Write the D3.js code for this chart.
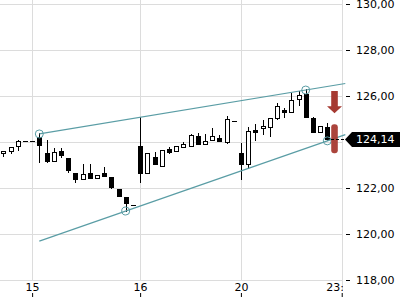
<!DOCTYPE html>
<html>
<head>
<meta charset="utf-8">
<script src="https://cdn.jsdelivr.net/npm/d3@7"></script>
<style>
  html, body { margin: 0; padding: 0; background: #fff; }
  svg { display: block; }
</style>
</head>
<body>
<svg id="chart"></svg>
<script>
// SIZES
var width = 400;
var height = 300;
var plotRight = 342;   // right edge of the candle area
var gridBottom = 281;

// COLORS
var gridColor = "#dcdcdc";
var trendColor = "#5a9da5";
var signalColor = "#a63a32";

// DATA - candles, index 0 is the oldest
var opens  = [123.52,123.62,123.83,124.06,124.06,124.20,123.51,123.17,123.61,123.29,
              122.64,122.38,122.64,122.43,122.64,122.49,121.94,121.60,121.25,123.83,
              122.64,123.33,122.97,123.70,123.62,123.77,123.84,124.27,123.93,124.07,
              124.17,124.01,124.90,123.53,123.03,124.52,124.59,124.64,125.06,125.40,
              125.29,125.86,126.09,125.03,124.42,124.67];
var highs  = [123.61,123.80,124.09,124.06,124.06,124.38,124.09,123.74,123.73,123.29,
              122.65,123.04,123.04,122.58,122.90,122.49,121.94,121.60,121.25,125.10,
              123.53,123.55,123.65,123.80,123.81,123.99,124.36,124.38,124.35,124.60,
              124.30,125.13,124.90,123.97,124.67,124.77,124.94,125.03,125.68,125.49,
              126.15,126.22,126.30,125.10,124.70,124.81];
var lows   = [123.39,123.53,123.65,124.06,124.06,123.14,123.14,123.17,123.33,122.71,
              122.27,122.38,122.42,122.43,122.53,121.99,121.65,121.00,121.25,122.27,
              122.64,123.03,122.97,123.51,123.62,123.77,123.84,123.90,123.93,124.07,
              124.06,123.97,124.90,122.40,122.87,124.07,124.35,124.28,125.00,125.07,
              125.29,125.60,125.09,124.45,124.42,124.09];
var closes = [123.61,123.80,124.04,124.06,124.06,123.85,123.19,123.55,123.43,122.78,
              122.38,122.62,122.42,122.58,122.53,122.03,121.67,121.33,121.25,122.67,
              123.53,123.03,123.65,123.55,123.81,123.93,124.29,123.90,124.03,124.26,
              124.06,124.99,124.90,123.03,124.47,124.43,124.68,125.03,125.56,125.30,
              125.81,126.03,125.09,124.45,124.70,124.14];

// AXES
var xTickIdx = [4, 19, 33, 47];
var xTickLabels = ["15", "16", "20", "23:00"];
var yTicks = [118, 120, 122, 124, 126, 128, 130];

// TREND LINES - two anchors (candle index, price), drawn from "from" to "to"
var trendAnchorsUpper = [[5, 124.35], [42, 126.26]];
var trendAnchorsLower = [[17, 121.00], [45, 124.05]];
var trendFrom = [5, 5];
var trendTo = [47.5, 47.5];

// SIGNAL - arrow and bar at the next candle slot
var signalIdx = [46];
var signalArrow = [[126.22, 125.25]];  // top, tip
var signalBar = [[124.77, 123.51]];    // top, bottom

var svg = d3.select("#chart").attr("width", width).attr("height", height);

var x = d3.scaleLinear().domain([-0.46, 47.04]).range([0, plotRight]);
var y = d3.scaleLinear().domain([118, 130]).range([280, 4]);

var locale = d3.formatLocale({decimal: ",", thousands: ".", grouping: [3], currency: ["", "€"]});
var fmt = locale.format(".2f");

function px(v) { return Math.round(v) + 0.5; }

// grid
var grid = svg.append("g");
grid.selectAll("line.h")
    .data(yTicks)
    .enter()
    .append("line")
    .attr("x1", 0)
    .attr("x2", plotRight)
    .attr("y1", d => px(y(d)))
    .attr("y2", d => px(y(d)))
    .attr("stroke", gridColor);
grid.selectAll("line.v")
    .data(xTickIdx)
    .enter()
    .append("line")
    .attr("x1", d => px(x(d)))
    .attr("x2", d => px(x(d)))
    .attr("y1", 0)
    .attr("y2", (d, i) => i == xTickIdx.length - 1 ? 290 : gridBottom)
    .attr("stroke", gridColor);

// candles
var candles = d3.range(opens.length).map(function(i) {
    return {i: i, o: opens[i], h: highs[i], l: lows[i], c: closes[i]};
});

var cg = svg.append("g");
candles.forEach(function(d) {
    var cx = Math.round(x(d.i));
    var top = Math.round(y(Math.max(d.o, d.c)));
    var bot = Math.round(y(Math.min(d.o, d.c)));
    if (d.h > Math.max(d.o, d.c) || d.l < Math.min(d.o, d.c)) {
        cg.append("line")
            .attr("x1", cx + 0.5).attr("x2", cx + 0.5)
            .attr("y1", Math.round(y(d.h))).attr("y2", Math.round(y(d.l)) + 1)
            .attr("stroke", "#000");
    }
    if (bot - top < 1) {
        // doji
        cg.append("line")
            .attr("x1", cx - 2).attr("x2", cx + 3)
            .attr("y1", top + 0.5).attr("y2", top + 0.5)
            .attr("stroke", "#000");
    } else {
        cg.append("rect")
            .attr("x", cx - 1.5)
            .attr("y", top + 0.5)
            .attr("width", 4)
            .attr("height", bot - top)
            .attr("fill", d.c >= d.o ? "#fff" : "#000")
            .attr("stroke", "#000");
    }
});

// trend lines
function lineAt(anchors, idx) {
    var a = anchors[0], b = anchors[1];
    return a[1] + (idx - a[0]) * (b[1] - a[1]) / (b[0] - a[0]);
}
var trends = [trendAnchorsUpper, trendAnchorsLower];
var tg = svg.append("g");
trends.forEach(function(anchors, k) {
    tg.append("line")
        .attr("x1", x(trendFrom[k])).attr("y1", y(lineAt(anchors, trendFrom[k])))
        .attr("x2", x(trendTo[k])).attr("y2", y(lineAt(anchors, trendTo[k])))
        .attr("stroke", trendColor)
        .attr("stroke-width", 1.2);
    tg.selectAll(null)
        .data(anchors)
        .enter()
        .append("circle")
        .attr("cx", d => x(d[0]))
        .attr("cy", d => y(d[1]))
        .attr("r", 4)
        .attr("fill", "none")
        .attr("stroke", trendColor)
        .attr("stroke-width", 1);
});

// signal marker
var sg = svg.append("g").attr("fill", signalColor);
signalIdx.forEach(function(idx, k) {
    var cx = x(idx);
    var aTop = y(signalArrow[k][0]);
    var aTip = y(signalArrow[k][1]);
    var headH = 7, shaftW = 3.3, headW = 7.5;
    sg.append("path")
        .attr("d", "M" + [cx - shaftW, aTop] + "L" + [cx + shaftW, aTop] +
                   "L" + [cx + shaftW, aTip - headH] + "L" + [cx + headW, aTip - headH] +
                   "L" + [cx, aTip] + "L" + [cx - headW, aTip - headH] +
                   "L" + [cx - shaftW, aTip - headH] + "Z");
    sg.append("rect")
        .attr("x", cx - shaftW)
        .attr("y", y(signalBar[k][0]))
        .attr("width", shaftW * 2)
        .attr("height", y(signalBar[k][1]) - y(signalBar[k][0]))
        .attr("rx", 3)
        .attr("opacity", 0.95);
});

var last = closes[closes.length - 1];
var ly = Math.round(y(last)) + 0.5;

// y axis (the label under the last price tag is hidden, as in the tag covers it)
var yAxis = svg.append("g")
    .attr("transform", "translate(346,0)")
    .call(d3.axisRight(y).tickValues(yTicks).tickSize(4).tickPadding(6).tickFormat(fmt));
yAxis.select(".domain").remove();
yAxis.attr("font-family", "DejaVu Sans").attr("font-size", 11);
yAxis.selectAll("text").attr("fill", "#000");
yAxis.selectAll(".tick").filter(d => Math.abs(y(d) - ly) < 12).remove();

// x axis, labels sit above the tick marks
svg.append("clipPath").attr("id", "xclip")
    .append("rect").attr("x", 0).attr("y", 270).attr("width", 343).attr("height", 30);
var xAxis = svg.append("g")
    .attr("clip-path", "url(#xclip)")
    .append("g")
    .attr("transform", "translate(0,297)")
    .call(d3.axisTop(x).tickValues(xTickIdx).tickSize(4).tickPadding(2)
        .tickFormat((d, i) => xTickLabels[i]));
xAxis.select(".domain").remove();
xAxis.attr("font-family", "DejaVu Sans").attr("font-size", 11);
xAxis.selectAll("text").attr("fill", "#000");

// last price tag
svg.append("line")
    .attr("x1", Math.round(x(closes.length - 1)) + 4).attr("x2", 345)
    .attr("y1", ly).attr("y2", ly)
    .attr("stroke", "#000")
    .attr("stroke-dasharray", "3,2");
svg.append("path")
    .attr("d", "M" + [345, ly] + "L" + [352, ly - 7.5] + "L" + [400, ly - 7.5] +
               "L" + [400, ly + 7.5] + "L" + [352, ly + 7.5] + "Z")
    .attr("fill", "#000");
svg.append("text")
    .attr("x", 356)
    .attr("y", ly)
    .attr("dy", "0.36em")
    .attr("font-family", "DejaVu Sans")
    .attr("font-size", 11)
    .attr("fill", "#fff")
    .text(fmt(last));
</script>
</body>
</html>
